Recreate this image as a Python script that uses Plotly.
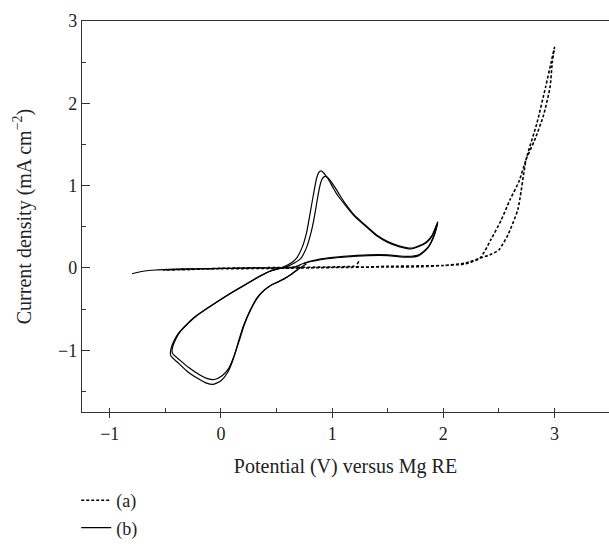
import plotly.graph_objects as go

# ---- data ----
# (a) dashed curve: potential (V) and current density (mA cm^-2)
a_x = [1.24, 1.22, 1.5, 1.8, 2.0, 2.2, 2.33, 2.42, 2.5, 2.58, 2.67, 2.745, 2.84, 2.92, 2.97, 3.0,
       2.98, 2.96, 2.9, 2.82, 2.745, 2.68, 2.6, 2.52, 2.43, 2.33, 2.2, 2.0, 1.8, 1.5, 1.0, 0.5, 0.0, -0.3, -0.52,
       -0.3, 0.0, 0.5, 1.0, 1.2]
a_y = [0.08, 0.02, 0.02, 0.025, 0.03, 0.06, 0.12, 0.16, 0.22, 0.4, 0.71, 1.32, 1.75, 2.2, 2.5, 2.68,
       2.5, 2.2, 1.85, 1.55, 1.32, 1.05, 0.83, 0.58, 0.35, 0.12, 0.05, 0.03, 0.015, 0.012, 0.005, -0.005, -0.01, -0.015, -0.025,
       -0.02, -0.005, 0.005, 0.012, 0.02]

# (b) solid CV, cycle 1
b1_x = [-0.8, -0.7, -0.59, -0.4, -0.24, 0.0, 0.3, 0.5, 0.66, 0.75, 0.9, 1.1, 1.33, 1.5, 1.68, 1.78, 1.86, 1.92, 1.95,
        1.9, 1.85, 1.78, 1.71, 1.6, 1.5, 1.4, 1.29, 1.2, 1.12, 1.05, 1.01, 0.96, 0.92, 0.9, 0.88, 0.86, 0.83, 0.8, 0.77, 0.73, 0.68, 0.64, 0.56,
        0.44, 0.3, 0.2, 0.05, -0.1, -0.24, -0.32, -0.38, -0.42, -0.445, -0.455,
        -0.45, -0.38, -0.3, -0.2, -0.13, -0.07, 0.0, 0.06, 0.11, 0.16, 0.2, 0.26, 0.32, 0.38, 0.44, 0.5, 0.56, 0.62, 0.68, 0.77]
b1_y = [-0.07, -0.04, -0.025, -0.015, -0.01, -0.005, 0.0, 0.0, 0.01, 0.06, 0.1, 0.13, 0.15, 0.15, 0.13, 0.15, 0.24, 0.4, 0.55,
        0.39, 0.31, 0.26, 0.23, 0.26, 0.31, 0.39, 0.52, 0.63, 0.76, 0.88, 0.97, 1.09, 1.16, 1.18, 1.16, 1.09, 0.88, 0.65, 0.43, 0.25, 0.12, 0.07, 0.01,
        -0.04, -0.14, -0.22, -0.34, -0.47, -0.6, -0.7, -0.79, -0.88, -0.96, -1.03,
        -1.07, -1.16, -1.26, -1.35, -1.40, -1.415, -1.37, -1.27, -1.11, -0.88, -0.71, -0.52, -0.37, -0.28, -0.22, -0.18, -0.14, -0.09, -0.03, 0.05]

# (b) solid CV, cycle 2
b2_x = [0.74, 0.8, 0.9, 1.1, 1.33, 1.5, 1.68, 1.78, 1.86, 1.92, 1.95,
        1.9, 1.85, 1.78, 1.71, 1.6, 1.5, 1.4, 1.29, 1.2, 1.13, 1.07, 1.03, 0.99, 0.96, 0.93, 0.91, 0.89, 0.87, 0.85, 0.83, 0.81, 0.77, 0.72, 0.66, 0.58,
        0.46, 0.32, 0.22, 0.07, -0.08, -0.22, -0.3, -0.365, -0.405, -0.43, -0.44,
        -0.435, -0.37, -0.29, -0.19, -0.12, -0.06, 0.01, 0.07, 0.12, 0.17, 0.21, 0.27, 0.33, 0.39, 0.45, 0.51, 0.57, 0.63, 0.69]
b2_y = [0.05, 0.08, 0.11, 0.14, 0.16, 0.16, 0.14, 0.16, 0.25, 0.41, 0.56,
        0.4, 0.32, 0.27, 0.24, 0.27, 0.32, 0.4, 0.53, 0.64, 0.76, 0.88, 0.97, 1.05, 1.1, 1.11, 1.08, 1.0, 0.86, 0.7, 0.55, 0.43, 0.25, 0.12, 0.06, 0.01,
        -0.03, -0.12, -0.2, -0.32, -0.45, -0.58, -0.68, -0.77, -0.86, -0.94, -1.0,
        -1.04, -1.12, -1.21, -1.3, -1.345, -1.355, -1.31, -1.22, -1.06, -0.86, -0.69, -0.5, -0.36, -0.27, -0.21, -0.17, -0.13, -0.08, -0.02]

x_ticks = [-1, 0, 1, 2, 3]
y_ticks = [-1, 0, 1, 2, 3]
legend_names = ["(a)", "(b)"]

FONT = "Liberation Serif"

fig = go.Figure()
fig.add_trace(go.Scatter(x=a_x, y=a_y, mode="lines", name=legend_names[0],
                         line=dict(color="black", width=1.6, dash="3px,2px", shape="spline", smoothing=0.6)))
fig.add_trace(go.Scatter(x=b1_x, y=b1_y, mode="lines", name=legend_names[1], legendgroup="b",
                         line=dict(color="black", width=1.2, shape="spline", smoothing=0.6)))
fig.add_trace(go.Scatter(x=b2_x, y=b2_y, mode="lines", name=legend_names[1], legendgroup="b", showlegend=False,
                         line=dict(color="black", width=1.2, shape="spline", smoothing=0.6)))

fig.update_layout(
    width=609, height=546,
    margin=dict(l=82, r=0, t=21, b=134),
    paper_bgcolor="white", plot_bgcolor="white",
    font=dict(family=FONT, size=18, color="#222"),
    showlegend=True,
    legend=dict(x=-0.011, xanchor="left", y=-0.179, yanchor="top", orientation="v",
                font=dict(family=FONT, size=18, color="#222"),
                bgcolor="rgba(0,0,0,0)", tracegroupgap=1, itemwidth=30),
    xaxis=dict(range=[-1.25, 3.49], tickmode="array", tickvals=x_ticks,
               ticks="outside", ticklen=5, tickcolor="#333", tickwidth=1.2,
               showline=True, linecolor="#333", linewidth=1.4, mirror=True,
               showgrid=False, zeroline=False, automargin=False,
               minor=dict(dtick=0.5, tick0=0, ticks="inside", ticklen=4, tickcolor="#333", tickwidth=1.2, showgrid=False),
               title=dict(text="Potential (V) versus Mg RE", font=dict(family=FONT, size=20), standoff=16),
               tickfont=dict(family=FONT, size=18)),
    yaxis=dict(range=[-1.75, 3.0], tickmode="array", tickvals=y_ticks,
               ticks="inside", ticklen=8, tickcolor="#333", tickwidth=1.2,
               showline=True, linecolor="#333", linewidth=1.4,
               showgrid=False, zeroline=False, automargin=False,
               minor=dict(dtick=0.5, tick0=0, ticks="inside", ticklen=4, tickcolor="#333", tickwidth=1.2, showgrid=False),
               title=dict(text="Current density (mA cm<sup>−2</sup>)", font=dict(family=FONT, size=20), standoff=21),
               tickfont=dict(family=FONT, size=18)),
)

fig.write_html("out.html")
